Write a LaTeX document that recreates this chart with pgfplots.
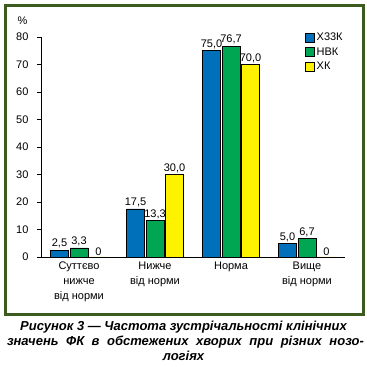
\documentclass[border=0pt]{standalone}
\usepackage{pgfplots}
\pgfplotsset{compat=1.18}
\usepackage{pgfplotstable}
\usepackage{fontspec}
\setmainfont{Liberation Sans}
\definecolor{cblue}{HTML}{0070BA}
\definecolor{cgreen}{HTML}{00A651}
\definecolor{cyellow}{HTML}{FFF200}
\definecolor{frame}{HTML}{3B5C1E}
\pgfplotstableread{
x y l
0 2.5 2,5
1 17.5 17,5
2 75.0 75,0
3 5.0 5,0
}\tA
\pgfplotstableread{
x y l
0 3.3 3,3
1 13.3 13,3
2 76.7 76,7
3 6.7 6,7
}\tB
\pgfplotstableread{
x y l
0 0 0
1 30.0 30,0
2 70.0 70,0
3 0 0
}\tC
\newcommand{\fs}{\fontsize{11bp}{13bp}\selectfont}
\begin{document}
\begin{tikzpicture}
\useasboundingbox (0,0) rectangle (367bp,367bp);
\draw[frame, line width=3bp] (5.5bp,361.5bp) rectangle (363.5bp,52.5bp);
\begin{axis}[
  at={(41bp,110bp)}, anchor=south west,
  scale only axis, width=304bp, height=220bp,
  axis lines=left, axis line style={-, line width=0.8bp},
  xmin=-0.5, xmax=3.5, ymin=0, ymax=80,
  /pgf/number format/assume math mode=true,
  ytick={0,10,...,80},
  xtick={0,1,2,3},
  xticklabels={{Суттєво\\нижче\\від норми},{Нижче\\від норми},{Норма},{Вище\\від норми}},
  x tick label style={align=center, font=\fontsize{11bp}{15bp}\selectfont, yshift=3bp},
  y tick label style={font=\fs, xshift=-5bp},
  tick align=outside,
  major tick length=4bp,
  tick style={line width=0.8bp, black},
  x tick style={draw=none},
  extra x ticks={-0.5,0.5,1.5,2.5,3.5},
  extra x tick labels={},
  extra x tick style={major tick length=5bp, tick style={draw=black, line width=0.8bp}},
  ybar=1.5bp, bar width=18bp,
  nodes near coords,
  point meta=explicit symbolic,
  every node near coord/.append style={font=\fs, inner sep=1.5bp, black},
  legend style={at={(0.868,1.029)}, anchor=north west, draw=none, fill=none, font=\fs,
    inner sep=0pt, row sep=1.5bp, cells={anchor=west}},
  legend image code/.code={\draw[#1, draw=black, line width=0.6bp] (0bp,-4.5bp) rectangle (9bp,4.5bp);},
  clip=false,
]
\addplot[fill=cblue, draw=black, line width=0.6bp] table[x=x,y=y,meta=l] {\tA};
\addplot[fill=cgreen, draw=black, line width=0.6bp] table[x=x,y=y,meta=l] {\tB};
\addplot[fill=cyellow, draw=black, line width=0.6bp] table[x=x,y=y,meta=l] {\tC};
\legend{Х33К, НВК, ХК}
\end{axis}
\node[font=\fs] at (22.5bp,346bp) {\%};
\node[font=\fontsize{13bp}{15bp}\selectfont\bfseries\itshape] at (183.5bp,40bp) {Рисунок 3 — Частота зустрічальності клінічних};
\node[font=\fontsize{13bp}{15bp}\selectfont\bfseries\itshape] at (185.5bp,25bp) {\makebox[357bp][s]{значень ФК в обстежених хворих при різних нозо-}};
\node[font=\fontsize{13bp}{15bp}\selectfont\bfseries\itshape] at (183.5bp,11bp) {логіях};
\end{tikzpicture}
\end{document}
